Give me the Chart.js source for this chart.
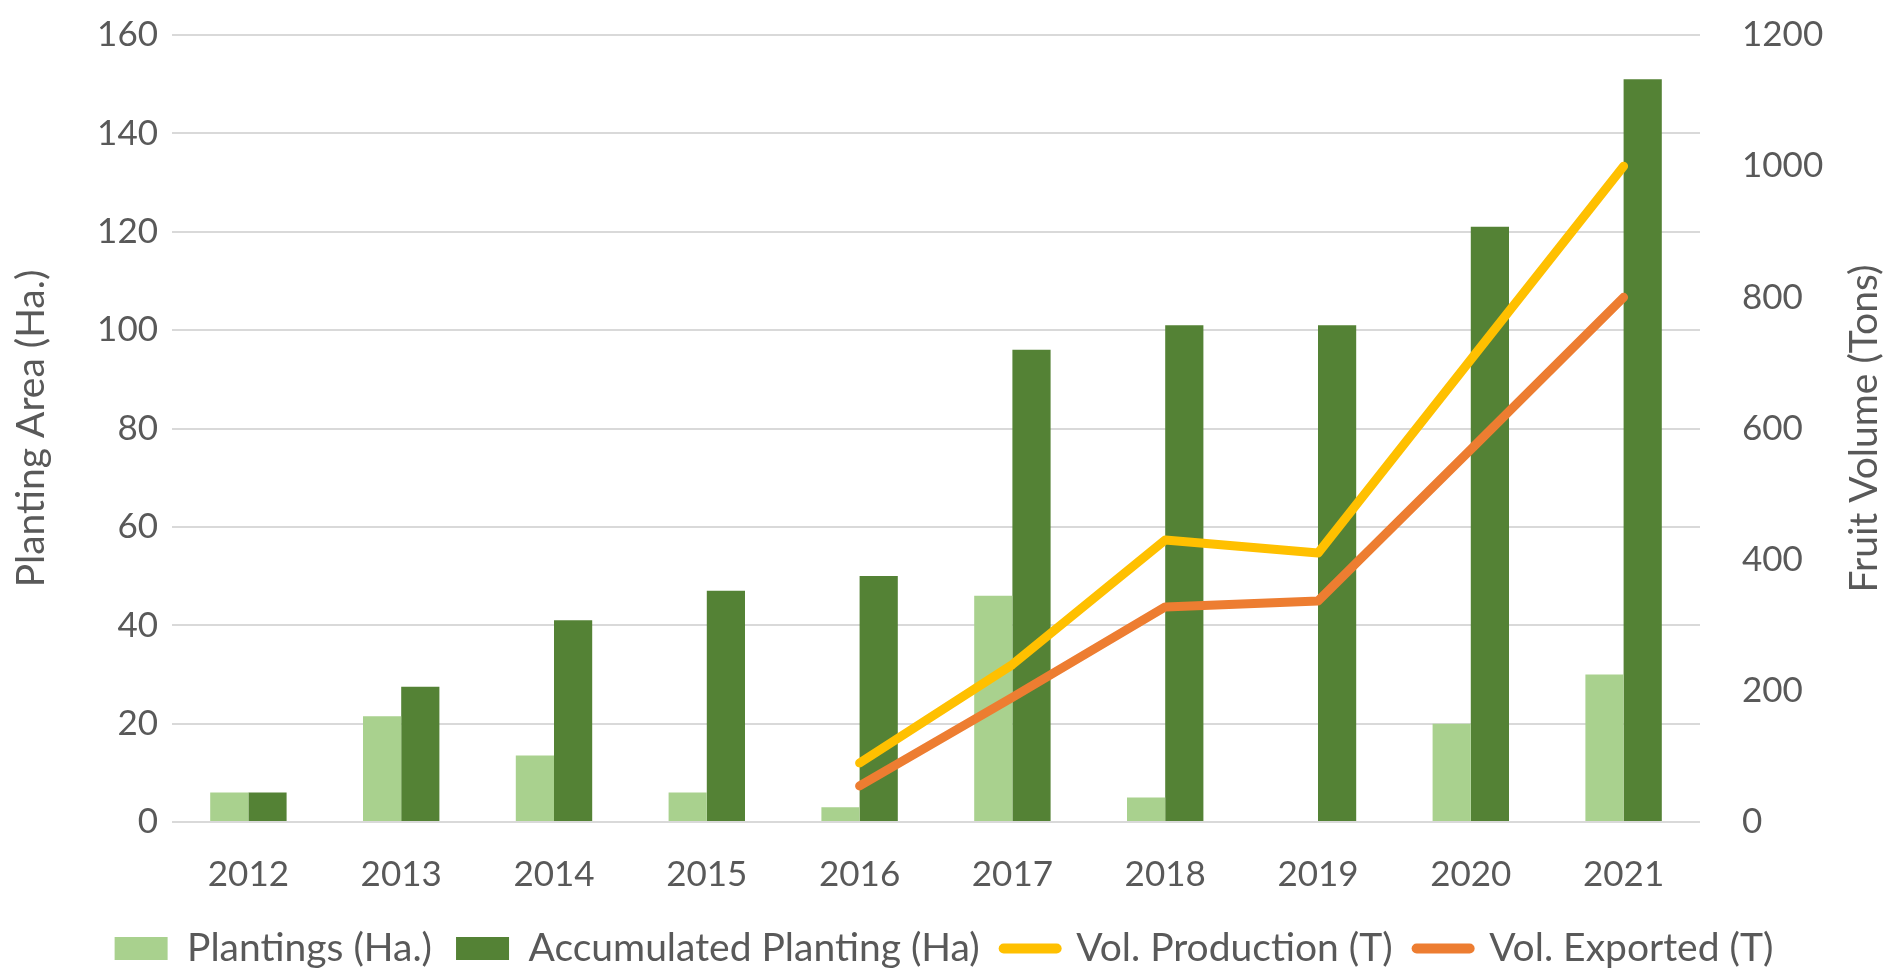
<!DOCTYPE html>
<html>
<head>
<meta charset="utf-8">
<script src="https://cdn.jsdelivr.net/npm/chart.js@4.4.1/dist/chart.umd.min.js"></script>
<style>
  html, body { margin: 0; padding: 0; background: #fff; }
  #wrap { width: 1888px; height: 978px; }
</style>
</head>
<body>
<div id="wrap"><canvas id="chart" width="1888" height="978"></canvas></div>
<script>
// values
const years = ['2012', '2013', '2014', '2015', '2016', '2017', '2018', '2019', '2020', '2021'];
const plantings = [6, 21.5, 13.5, 6, 3, 46, 5, 0, 20, 30];
const accumulated = [6, 27.5, 41, 47, 50, 96, 101, 101, 121, 151];
const volProduction = [null, null, null, null, 90, 240, 430, 410, 705, 1000];
const volExported = [null, null, null, null, 55, 190, 328, 337, 568, 800];

const textColor = '#595959';
const fontFamily = 'Lato, "Open Sans", sans-serif';
const rightTitle = 'Fruit Volume (Tons)';

Chart.defaults.font.family = fontFamily;
Chart.defaults.color = textColor;

// right axis title reads bottom to top, like the left one
const rightTitlePlugin = {
    id: 'rightTitle',
    afterDraw(c) {
        const s = c.scales.y1;
        const g = c.ctx;
        g.save();
        g.translate(1864, (s.top + s.bottom) / 2);
        g.rotate(-Math.PI / 2);
        g.font = '39px ' + fontFamily;
        g.fillStyle = textColor;
        g.textAlign = 'center';
        g.textBaseline = 'middle';
        g.fillText(rightTitle, 0, 0);
        g.restore();
    }
};

const ctx = document.getElementById('chart');

const chart = new Chart(ctx, {
    type: 'bar',
    data: {
        labels: years,
        datasets: [{
            label: 'Plantings (Ha.)',
            data: plantings,
            backgroundColor: '#A9D18E',
            yAxisID: 'y',
            order: 1
        }, {
            label: 'Accumulated Planting (Ha)',
            data: accumulated,
            backgroundColor: '#548235',
            yAxisID: 'y',
            order: 1
        }, {
            type: 'line',
            label: 'Vol. Production (T)',
            data: volProduction,
            borderColor: '#FFC000',
            backgroundColor: '#FFC000',
            borderWidth: 9,
            borderCapStyle: 'round',
            borderJoinStyle: 'round',
            pointRadius: 0,
            tension: 0,
            yAxisID: 'y1',
            order: 0
        }, {
            type: 'line',
            label: 'Vol. Exported (T)',
            data: volExported,
            borderColor: '#ED7D31',
            backgroundColor: '#ED7D31',
            borderWidth: 9,
            borderCapStyle: 'round',
            borderJoinStyle: 'round',
            pointRadius: 0,
            tension: 0,
            yAxisID: 'y1',
            order: 0
        }]
    },
    options: {
        responsive: false,
        animation: false,
        layout: { padding: { top: 0, bottom: 0 } },
        datasets: {
            bar: { categoryPercentage: 0.5, barPercentage: 1, borderWidth: 0 }
        },
        plugins: {
            tooltip: { enabled: false },
            legend: {
                position: 'bottom',
                labels: {
                    usePointStyle: true,
                    pointStyleWidth: 53,
                    boxHeight: 23,
                    padding: 24,
                    font: { size: 39 },
                    color: textColor,
                    sort: (a, b) => a.datasetIndex - b.datasetIndex,
                    generateLabels: (c) => {
                        const items = Chart.defaults.plugins.legend.labels.generateLabels(c);
                        items.forEach(it => {
                            const ds = c.data.datasets[it.datasetIndex];
                            if (ds.type === 'line') {
                                it.pointStyle = 'line';
                                it.lineWidth = 10;
                                it.lineCap = 'round';
                                it.strokeStyle = ds.borderColor;
                            } else {
                                it.pointStyle = 'rect';
                                it.lineWidth = 0;
                            }
                        });
                        return items;
                    }
                }
            }
        },
        scales: {
            x: {
                grid: { display: false },
                border: { display: false },
                ticks: { font: { size: 35 }, color: textColor, padding: 24 },
                afterFit: (s) => { s.height -= 15; }
            },
            y: {
                position: 'left',
                min: 0,
                max: 160,
                ticks: { stepSize: 20, font: { size: 35 }, color: textColor, padding: 14 },
                grid: { color: '#D9D9D9', lineWidth: 2, drawTicks: false },
                border: { display: false },
                title: {
                    display: true,
                    text: 'Planting Area (Ha.)',
                    font: { size: 39 },
                    color: textColor,
                    padding: { top: 8, bottom: 0 }
                },
                afterFit: (s) => { s.width = 172; }
            },
            y1: {
                position: 'right',
                min: 0,
                max: 1200,
                ticks: {
                    stepSize: 200,
                    font: { size: 35 },
                    color: textColor,
                    padding: 14,
                    callback: (v) => String(v)
                },
                grid: {
                    display: true,
                    drawOnChartArea: false,
                    drawTicks: true,
                    tickLength: 28,
                    tickColor: 'rgba(0,0,0,0)'
                },
                border: { display: false },
                afterFit: (s) => { s.width = 188; }
            }
        }
    },
    plugins: [rightTitlePlugin]
});
</script>
</body>
</html>
